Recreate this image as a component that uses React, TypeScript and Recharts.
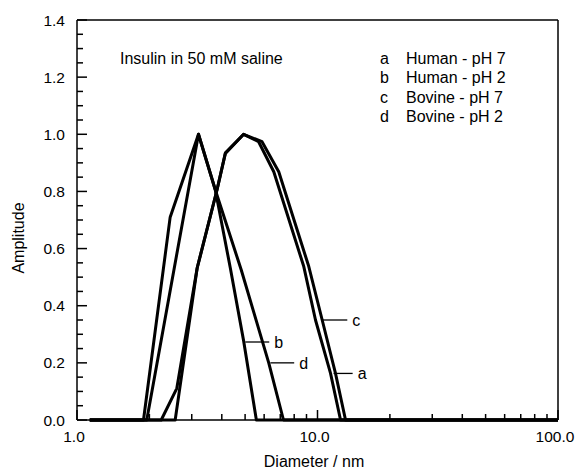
import React from "react";
import {
  LineChart,
  Line,
  XAxis,
  YAxis,
  ReferenceLine,
  Customized,
} from "recharts";

/* ── Data ───────────────────────────────────────────────────── */

// a  Human - pH 7
const A_DIAM = [1.13, 2.24, 2.6, 3.16, 3.82, 4.14, 4.93, 5.69, 6.58, 8.77, 9.81, 11.33, 12.47, 100];
const A_AMP = [0, 0, 0.111, 0.532, 0.805, 0.933, 1.0, 0.974, 0.869, 0.537, 0.35, 0.163, 0, 0];

// b  Human - pH 2
const B_DIAM = [1.13, 1.89, 2.44, 3.2, 3.76, 4.34, 4.93, 5.57, 100];
const B_AMP = [0, 0, 0.71, 1.0, 0.805, 0.532, 0.277, 0, 0];

// c  Bovine - pH 7
const C_DIAM = [1.13, 2.56, 3.16, 3.82, 4.14, 4.93, 5.88, 6.9, 9.2, 10.46, 11.88, 13.08, 100];
const C_AMP = [0, 0, 0.532, 0.805, 0.935, 1.0, 0.974, 0.869, 0.537, 0.35, 0.163, 0, 0];

// d  Bovine - pH 2
const D_DIAM = [1.13, 1.95, 3.2, 3.76, 4.82, 6.27, 7.22, 100];
const D_AMP = [0, 0, 1.0, 0.805, 0.525, 0.2, 0, 0];

const LEGEND_KEYS = ["a", "b", "c", "d"];
const LEGEND_LABELS = ["Human - pH 7", "Human - pH 2", "Bovine - pH 7", "Bovine - pH 2"];

// curve call-outs: letter, line start/end diameter, amplitude
const CALLOUT_KEYS = ["b", "d", "c", "a"];
const CALLOUT_X1 = [5.01, 6.37, 10.5, 11.66];
const CALLOUT_X2 = [6.3, 8.0, 13.3, 14.0];
const CALLOUT_Y = [0.273, 0.2, 0.35, 0.163];

const X_TICKS = [1, 2, 3, 4, 5, 6, 7, 8, 9, 10, 20, 30, 40, 50, 60, 70, 80, 90, 100];
const X_MAJOR = [1, 10, 100];
const Y_TICKS = [
  0, 0.05, 0.1, 0.15, 0.2, 0.25, 0.3, 0.35, 0.4, 0.45, 0.5, 0.55, 0.6, 0.65, 0.7,
  0.75, 0.8, 0.85, 0.9, 0.95, 1.0, 1.05, 1.1, 1.15, 1.2, 1.25, 1.3, 1.35, 1.4,
];
const Y_MAJOR = [0, 0.2, 0.4, 0.6, 0.8, 1.0, 1.2, 1.4];

/* ── Helpers ────────────────────────────────────────────────── */

const FONT = "'Liberation Sans', Arial, sans-serif";
const INK = "#000";

const toRows = (xs: number[], ys: number[]) => xs.map((d, i) => ({ d, amp: ys[i] }));

const SERIES = [
  { key: "a", data: toRows(A_DIAM, A_AMP) },
  { key: "b", data: toRows(B_DIAM, B_AMP) },
  { key: "c", data: toRows(C_DIAM, C_AMP) },
  { key: "d", data: toRows(D_DIAM, D_AMP) },
];

function YTick({ x, y, payload }: any) {
  const v = payload.value as number;
  const major = Y_MAJOR.includes(v);
  return (
    <g>
      <line x1={x} x2={x + (major ? 10 : 6)} y1={y} y2={y} stroke={INK} strokeWidth={1.5} />
      {major && (
        <text x={x - 12} y={y} dy="0.36em" textAnchor="end" fontSize={15.5} fontFamily={FONT} fill={INK}>
          {v.toFixed(1)}
        </text>
      )}
    </g>
  );
}

function XTick({ x, y, payload }: any) {
  const v = payload.value as number;
  const major = X_MAJOR.includes(v);
  return (
    <g>
      <line x1={x} x2={x} y1={y} y2={y - (major ? 10 : 6)} stroke={INK} strokeWidth={1.5} />
      {major && (
        <text x={x - 3} y={y + 22} textAnchor="middle" fontSize={15.5} fontFamily={FONT} fill={INK}>
          {v.toFixed(1)}
        </text>
      )}
    </g>
  );
}

/* Static text: axis titles, note and legend */
function Annotations() {
  return (
    <g fontFamily={FONT} fill={INK} fontSize={16}>
      <text x={18} y={238} textAnchor="middle" dominantBaseline="central" transform="rotate(-90 18 238)">
        Amplitude
      </text>
      <text x={314} y={467} textAnchor="middle">
        Diameter / nm
      </text>
      <text x={120} y={64}>Insulin in 50 mM saline</text>
      {LEGEND_KEYS.map((k, i) => (
        <g key={k}>
          <text x={380} y={64 + i * 19.4}>{k}</text>
          <text x={406} y={64 + i * 19.4}>{LEGEND_LABELS[i]}</text>
        </g>
      ))}
    </g>
  );
}

/* ── Component ──────────────────────────────────────────────── */

export default function App() {
  return (
    <div style={{ position: "absolute", left: 0, top: 0, background: "#fff" }}>
      <LineChart width={577} height={469} margin={{ top: 20, right: 19, bottom: 0, left: 0 }}>
        <XAxis
          dataKey="d"
          type="number"
          scale="log"
          domain={[1, 100]}
          ticks={X_TICKS}
          interval={0}
          tickSize={0}
          tickMargin={0}
          tickLine={false}
          tick={<XTick />}
          height={49}
          axisLine={{ stroke: INK, strokeWidth: 1.5 }}
          allowDataOverflow
        />
        <YAxis
          type="number"
          domain={[0, 1.4]}
          ticks={Y_TICKS}
          interval={0}
          tickSize={0}
          tickMargin={0}
          tickLine={false}
          tick={<YTick />}
          width={77}
          axisLine={{ stroke: INK, strokeWidth: 1.5 }}
        />
        <ReferenceLine y={1.4} stroke={INK} strokeWidth={1.5} />
        <ReferenceLine x={100} stroke={INK} strokeWidth={1.5} />

        {SERIES.map((s) => (
          <Line
            key={s.key}
            data={s.data}
            dataKey="amp"
            type="linear"
            stroke={INK}
            strokeWidth={3}
            strokeLinejoin="round"
            dot={false}
            activeDot={false}
            isAnimationActive={false}
          />
        ))}

        {CALLOUT_KEYS.map((k, i) => (
          <ReferenceLine
            key={`co_${k}`}
            segment={[
              { x: CALLOUT_X1[i], y: CALLOUT_Y[i] },
              { x: CALLOUT_X2[i], y: CALLOUT_Y[i] },
            ]}
            stroke={INK}
            strokeWidth={1.3}
            label={{ value: k, position: "right", offset: 5, fontSize: 16, fontFamily: FONT, fill: INK }}
          />
        ))}

        <Customized component={Annotations} />
      </LineChart>
    </div>
  );
}
